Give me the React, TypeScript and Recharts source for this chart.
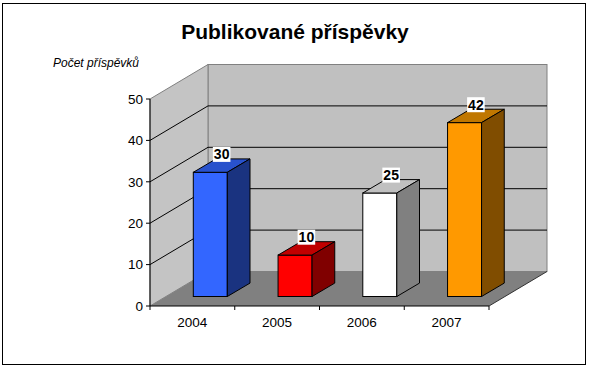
import React from "react";
import { BarChart, Bar, XAxis, YAxis, CartesianGrid, Cell } from "recharts";

const years = ["2004", "2005", "2006", "2007"];
const counts = [30, 10, 25, 42];
const yTicks = [0, 10, 20, 30, 40, 50];

const FRONT = ["#3366ff", "#ff0000", "#ffffff", "#ff9900"];
const TOP = ["#2952cc", "#c00000", "#c0c0c0", "#c07700"];
const SIDE = ["#1a3380", "#800000", "#808080", "#804d00"];

const data = years.map((year, i) => ({ year, count: counts[i] }));

// fake 3D: how far the back wall sits behind the front plane
const DEPTH_X = 58;
const DEPTH_Y = 34.5;
// bars sit a bit behind the front plane and have their own depth
const BAR_SHIFT_X = 18.3;
const BAR_SHIFT_Y = 9.5;
const BAR_DX = 22.7;
const BAR_DY = 13.4;

const FONT = "Arial, 'Liberation Sans', sans-serif";

// walls, floor and gridlines, drawn from the grid line props
function WallLine(props: any) {
  const { x, y, width, height, y1, index } = props;
  const bottom = y + height;
  const isEdge = Math.abs(y1 - y) < 0.5 || Math.abs(y1 - bottom) < 0.5;
  return (
    <g key={`wall-${index}`}>
      {index === 0 && (
        <g>
          <rect
            x={x + DEPTH_X}
            y={y - DEPTH_Y}
            width={width}
            height={height}
            fill="#c0c0c0"
            stroke="#808080"
          />
          <polygon
            points={`${x},${y} ${x + DEPTH_X},${y - DEPTH_Y} ${x + DEPTH_X},${bottom - DEPTH_Y} ${x},${bottom}`}
            fill="#c4c4c4"
            stroke="#808080"
          />
          <polygon
            points={`${x},${bottom} ${x + width},${bottom} ${x + width + DEPTH_X},${bottom - DEPTH_Y} ${x + DEPTH_X},${bottom - DEPTH_Y}`}
            fill="#808080"
          />
          <line
            x1={x + width}
            y1={bottom}
            x2={x + width + DEPTH_X}
            y2={bottom - DEPTH_Y}
            stroke="#333"
          />
        </g>
      )}
      {!isEdge && (
        <polyline
          points={`${x},${y1} ${x + DEPTH_X},${y1 - DEPTH_Y} ${x + width + DEPTH_X},${y1 - DEPTH_Y}`}
          fill="none"
          stroke="#000"
        />
      )}
    </g>
  );
}

function Box3D(props: any) {
  const { x, y, width, height, index, payload } = props;
  const fx = x + BAR_SHIFT_X;
  const fy = y - BAR_SHIFT_Y;
  const label = String(payload?.count ?? props.value);
  const cx = fx + width / 2 + BAR_DX / 2;
  const base = fy - BAR_DY + 0.5;
  const boxW = label.length * 7.8 + 2;
  return (
    <g>
      <rect x={fx} y={fy} width={width} height={height} fill={FRONT[index]} stroke="#000" />
      <polygon
        points={`${fx},${fy} ${fx + BAR_DX},${fy - BAR_DY} ${fx + width + BAR_DX},${fy - BAR_DY} ${fx + width},${fy}`}
        fill={TOP[index]}
        stroke="#000"
      />
      <polygon
        points={`${fx + width},${fy} ${fx + width + BAR_DX},${fy - BAR_DY} ${fx + width + BAR_DX},${fy + height - BAR_DY} ${fx + width},${fy + height}`}
        fill={SIDE[index]}
        stroke="#000"
      />
      <rect x={cx - boxW / 2} y={base - 12.5} width={boxW} height={15} fill="#fff" />
      <text
        x={cx}
        y={base}
        textAnchor="middle"
        fontFamily={FONT}
        fontWeight="bold"
        fontSize={14}
        fill="#000"
      >
        {label}
      </text>
    </g>
  );
}

// year label plus tick marks on the category boundaries
function YearTick(props: any) {
  const { x, y, payload, index, visibleTicksCount, width } = props;
  const band = (width || 339) / (visibleTicksCount || years.length);
  const left = x - band / 2;
  const right = x + band / 2;
  return (
    <g>
      <line x1={left} y1={y} x2={left} y2={y + 4} stroke="#000" />
      {index === (visibleTicksCount || years.length) - 1 && (
        <line x1={right} y1={y} x2={right} y2={y + 4} stroke="#000" />
      )}
      <text x={x} y={y + 21} textAnchor="middle" fontFamily={FONT} fontSize={13.5} fill="#000">
        {payload.value}
      </text>
    </g>
  );
}

export default function App() {
  return (
    <div style={{ position: "absolute", left: 0, top: 0, width: 590, height: 367, background: "#fff" }}>
      <BarChart
        width={590}
        height={367}
        data={data}
        margin={{ top: 99, right: 101, bottom: 21, left: 90 }}
      >
        <CartesianGrid vertical={false} horizontal={WallLine as any} />
        <XAxis
          dataKey="year"
          height={40}
          tickSize={0}
          tickMargin={0}
          tickLine={false}
          axisLine={{ stroke: "#000" }}
          tick={YearTick as any}
          interval={0}
        />
        <YAxis
          width={60}
          domain={[0, 50]}
          ticks={yTicks}
          tickSize={4}
          tickMargin={3}
          axisLine={{ stroke: "#000" }}
          tickLine={{ stroke: "#000" }}
          tick={{ fill: "#000", fontSize: 13.5, fontFamily: FONT }}
        />
        <Bar dataKey="count" barSize={34} shape={Box3D as any} isAnimationActive={false}>
          {data.map((entry, i) => (
            <Cell key={`cell-${entry.year}`} fill={FRONT[i]} />
          ))}
        </Bar>
      </BarChart>
      <svg
        width={590}
        height={367}
        style={{ position: "absolute", left: 0, top: 0, pointerEvents: "none" }}
      >
        <rect x={2.5} y={3.5} width={583} height={361} fill="none" stroke="#000" />
        <text x={295} y={39} textAnchor="middle" fontFamily={FONT} fontWeight="bold" fontSize={21} fill="#000">
          Publikované příspěvky
        </text>
        <text x={53} y={67} fontFamily={FONT} fontStyle="italic" fontSize={12} fill="#000">
          Počet příspěvků
        </text>
      </svg>
    </div>
  );
}
